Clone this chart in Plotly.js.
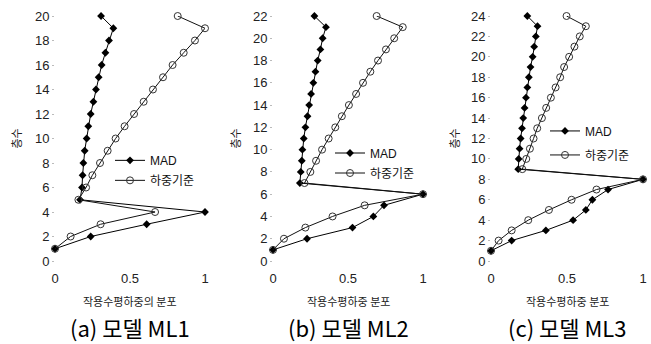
<!DOCTYPE html>
<html>
<head>
<meta charset="utf-8">
<script src="https://cdn.plot.ly/plotly-3.0.1.min.js"></script>
<style>html,body{margin:0;padding:0;background:#fff;}#chart{width:651px;height:344px;}</style>
</head>
<body>
<div id="chart"></div>
<script>
// Panel (a) model ML1: floors 1..20
const floorsA = [1,2,3,4,5,6,7,8,9,10,11,12,13,14,15,16,17,18,19,20];
const madA = [0,0.238,0.611,1.0,0.167,0.18,0.184,0.189,0.198,0.211,0.222,0.238,0.256,0.273,0.291,0.311,0.336,0.36,0.389,0.307];
const loadA = [0,0.104,0.304,0.667,0.156,0.207,0.249,0.3,0.351,0.404,0.464,0.527,0.591,0.653,0.72,0.784,0.858,0.933,1.0,0.818];

// Panel (b) model ML2: floors 1..22
const floorsB = [1,2,3,4,5,6,7,8,9,10,11,12,13,14,15,16,17,18,19,20,21,22];
const madB = [0,0.227,0.53,0.669,0.74,1.0,0.179,0.185,0.192,0.196,0.205,0.216,0.23,0.241,0.254,0.269,0.283,0.298,0.316,0.331,0.353,0.276];
const loadB = [0,0.073,0.216,0.397,0.611,1.0,0.21,0.249,0.287,0.327,0.371,0.415,0.459,0.506,0.554,0.6,0.649,0.7,0.753,0.808,0.865,0.691];

// Panel (c) model ML3: floors 1..24
const floorsC = [1,2,3,4,5,6,7,8,9,10,11,12,13,14,15,16,17,18,19,20,21,22,23,24];
const madC = [0,0.136,0.361,0.54,0.624,0.667,0.77,1.0,0.179,0.182,0.188,0.195,0.204,0.212,0.221,0.23,0.239,0.249,0.26,0.274,0.284,0.295,0.306,0.239];
const loadC = [0,0.05,0.136,0.245,0.381,0.53,0.694,1.0,0.206,0.232,0.256,0.28,0.304,0.335,0.363,0.394,0.425,0.455,0.481,0.514,0.549,0.584,0.624,0.497];

const seriesNames = ['MAD', '하중기준'];
const xTickVals = [0, 0.5, 1];
const xTickText = ['0', '0.5', '1'];
const yMax = [20, 22, 24];
const xTitles = ['작용수평하중의 분포', '작용수평하중 분포', '작용수평하중 분포'];
const captions = ['(a) 모델 ML1', '(b) 모델 ML2', '(c) 모델 ML3'];
const yTitle = '층수';

const panels = [
  {f: floorsA, mad: madA, load: loadA},
  {f: floorsB, mad: madB, load: loadB},
  {f: floorsC, mad: madC, load: loadC}
];

const W = 651;
const domains = [[55/W, 205/W], [273/W, 423/W], [491/W, 643/W]];
const legendPos = [{x: 110/W, y: 0.47}, {x: 330/W, y: 0.50}, {x: 545/W, y: 0.59}];
const yTitleX = [15/W, 234/W, 453/W];

const traces = [];
const layout = {
  width: 651, height: 344,
  margin: {l: 0, r: 0, t: 16, b: 83},
  paper_bgcolor: '#fff', plot_bgcolor: '#fff',
  font: {family: 'Liberation Sans, Arial, Noto Sans CJK KR, sans-serif', color: '#222', size: 12},
  annotations: []
};

panels.forEach((p, i) => {
  const s = i === 0 ? '' : String(i + 1);
  const lg = i === 0 ? 'legend' : 'legend' + (i + 1);
  traces.push({
    x: p.mad, y: p.f, xaxis: 'x' + s, yaxis: 'y' + s, legend: lg,
    name: seriesNames[0], mode: 'lines+markers', cliponaxis: false,
    legendgroup: 'm' + i,
    line: {color: '#000', width: 1},
    marker: {symbol: 'diamond', size: 6, color: '#000'}
  });
  traces.push({
    x: p.load, y: p.f, xaxis: 'x' + s, yaxis: 'y' + s, legend: lg,
    name: seriesNames[1], mode: 'lines+markers', cliponaxis: false,
    legendgroup: 'l' + i,
    line: {color: '#111', width: 1},
    marker: {symbol: 'circle-open', size: 7, color: '#333', line: {width: 1}}
  });
  layout['xaxis' + s] = {
    domain: domains[i], range: [0, 1], anchor: 'y' + s,
    tickvals: xTickVals, ticktext: xTickText,
    showgrid: false, zeroline: false, showline: false,
    ticks: '', ticklabelstandoff: 8, tickfont: {size: 13, color: '#222'}
  };
  layout['yaxis' + s] = {
    domain: [0, 1], range: [0, yMax[i]], anchor: 'x' + s, dtick: 2,
    showgrid: false, zeroline: false, showline: false,
    ticks: 'outside', ticklen: 2, tickcolor: '#bbb',
    tickfont: {size: 13, color: '#222'}
  };
  layout[lg] = {
    x: legendPos[i].x, y: legendPos[i].y, xanchor: 'left', yanchor: 'top',
    bgcolor: 'rgba(0,0,0,0)', font: {size: 12, color: '#111', family: 'Liberation Sans, Noto Sans CJK KR, sans-serif'},
    tracegroupgap: i === 2 ? 5 : 1, traceorder: 'grouped'
  };
  const cx = (domains[i][0] + domains[i][1]) / 2;
  layout.annotations.push({
    text: xTitles[i], xref: 'paper', yref: 'paper', x: cx, y: -0.163,
    xanchor: 'center', yanchor: 'middle', showarrow: false,
    font: {size: 11, color: '#222', family: 'Noto Sans CJK KR, sans-serif'}
  });
  layout.annotations.push({
    text: captions[i], xref: 'paper', yref: 'paper', x: cx, y: -0.269,
    xanchor: 'center', yanchor: 'middle', showarrow: false,
    font: {size: 22, color: '#000', family: 'Liberation Sans Narrow, Noto Sans CJK KR, sans-serif'}
  });
  layout.annotations.push({
    text: yTitle, xref: 'paper', yref: 'paper', x: yTitleX[i], y: 0.5,
    xanchor: 'center', yanchor: 'middle', showarrow: false, textangle: -90,
    font: {size: 11, color: '#222', family: 'Noto Sans CJK KR, sans-serif'}
  });
});

Plotly.newPlot('chart', traces, layout, {displayModeBar: false, staticPlot: true});
</script>
</body>
</html>
